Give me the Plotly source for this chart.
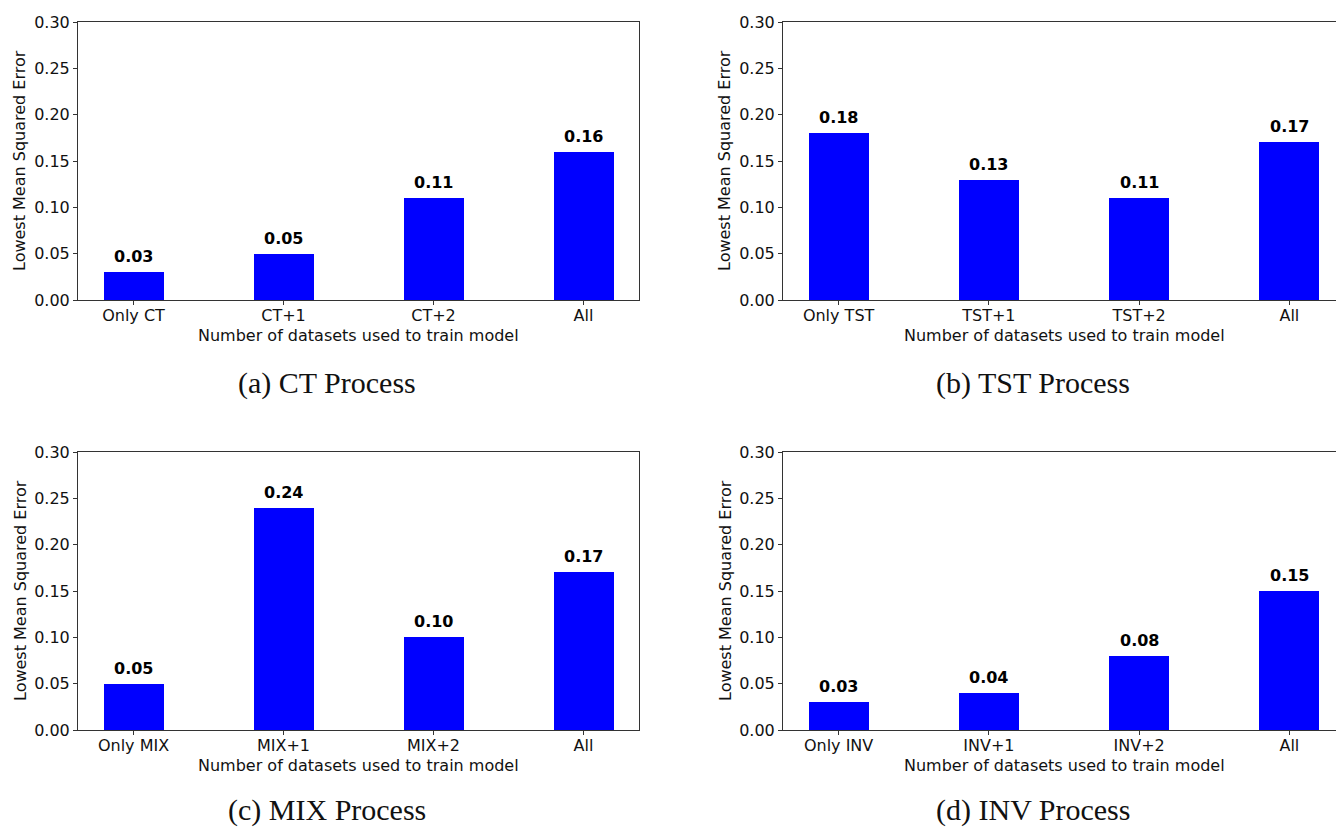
import plotly.graph_objects as go

W, H = 1336, 828

panels = [
    {"cats": ["Only CT", "CT+1", "CT+2", "All"], "vals": [0.03, 0.05, 0.11, 0.16], "cap": "(a) CT Process"},
    {"cats": ["Only TST", "TST+1", "TST+2", "All"], "vals": [0.18, 0.13, 0.11, 0.17], "cap": "(b) TST Process"},
    {"cats": ["Only MIX", "MIX+1", "MIX+2", "All"], "vals": [0.05, 0.24, 0.10, 0.17], "cap": "(c) MIX Process"},
    {"cats": ["Only INV", "INV+1", "INV+2", "All"], "vals": [0.03, 0.04, 0.08, 0.15], "cap": "(d) INV Process"},
]
y_ticks = [0.0, 0.05, 0.10, 0.15, 0.20, 0.25, 0.30]
y_ticktext = ["0.00", "0.05", "0.10", "0.15", "0.20", "0.25", "0.30"]
x_title = "Number of datasets used to train model"
y_title = "Lowest Mean Squared Error"

# pixel geometry (left, right, top, bottom) of each axes
geo = [
    (78, 639, 22, 300),
    (783, 1345, 22, 300),
    (78, 639, 452, 730),
    (783, 1345, 452, 730),
]
cap_pos = [(327, 383), (1033, 383), (327, None), (1033, None)]

fig = go.Figure()
tickfont = dict(family="DejaVu Sans", size=16, color="#111")
annotations = []
for i, (p, g) in enumerate(zip(panels, geo)):
    L, R, T, B = g
    idx = i + 1
    xa = "x" if idx == 1 else f"x{idx}"
    ya = "y" if idx == 1 else f"y{idx}"
    xs = list(range(len(p["cats"])))
    fig.add_trace(go.Bar(x=xs, y=p["vals"], width=0.4, marker=dict(color="#0000ff", line=dict(width=0)),
                         xaxis=xa, yaxis=ya, showlegend=False, hoverinfo="skip"))
    R_vis = min(R, W)
    unit = (R - L) / 3.74
    xmax = -0.37 + (R_vis - L) / unit
    clipped = R > W
    xd = dict(domain=[L / W, R_vis / W], range=[-0.37, xmax], tickmode="array", tickvals=xs,
              ticktext=p["cats"], showline=True, linecolor="#333", linewidth=1, mirror=True,
              ticks="outside", ticklen=4, tickcolor="#333", tickfont=tickfont, showgrid=False,
              zeroline=False, anchor=ya, fixedrange=True, automargin=False, ticklabelstandoff=-3)
    yd = dict(domain=[1 - B / H, 1 - T / H], range=[0, 0.30], tickmode="array", tickvals=y_ticks,
              ticktext=y_ticktext, showline=True, linecolor="#333", linewidth=1,
              mirror=(not clipped), ticks="outside", ticklen=4, tickcolor="#333", tickfont=tickfont,
              showgrid=False, zeroline=False, anchor=xa, fixedrange=True, automargin=False)
    key = "" if idx == 1 else str(idx)
    fig.layout["xaxis" + key] = xd
    fig.layout["yaxis" + key] = yd
    for x, v in zip(xs, p["vals"]):
        annotations.append(dict(x=x, y=v, xref=xa, yref=ya, text=f"<b>{v:.2f}</b>", showarrow=False,
                                yanchor="bottom", yshift=4, font=dict(family="DejaVu Sans", size=16, color="#000")))
    annotations.append(dict(x=(L + R) / 2 / W, y=1 - 335 / H if i < 2 else 1 - 765 / H, xref="paper", yref="paper",
                            text=x_title, showarrow=False, xanchor="center", yanchor="middle",
                            font=dict(family="DejaVu Sans", size=16, color="#111")))
    annotations.append(dict(x=(L - 58) / W, y=1 - (T + B) / 2 / H, xref="paper", yref="paper",
                            text=y_title, showarrow=False, textangle=-90, xanchor="center", yanchor="middle",
                            font=dict(family="DejaVu Sans", size=16, color="#111")))
    cx, cy = cap_pos[i]
    capfont = dict(family="Liberation Serif", size=30, color="#111")
    if cy is None:
        annotations.append(dict(x=cx / W, y=0, xref="paper", yref="paper", text=p["cap"], showarrow=False,
                                xanchor="center", yanchor="bottom", borderpad=0, font=capfont))
    else:
        annotations.append(dict(x=cx / W, y=1 - cy / H, xref="paper", yref="paper", text=p["cap"],
                                showarrow=False, xanchor="center", yanchor="middle", font=capfont))

fig.update_layout(width=W, height=H, margin=dict(l=0, r=0, t=0, b=0, pad=0, autoexpand=False),
                  paper_bgcolor="white", plot_bgcolor="white", annotations=annotations, bargap=0)
fig.write_html("out.html", config={"displayModeBar": False},
               post_script="document.body.style.margin='0';document.body.style.overflow='hidden';")
